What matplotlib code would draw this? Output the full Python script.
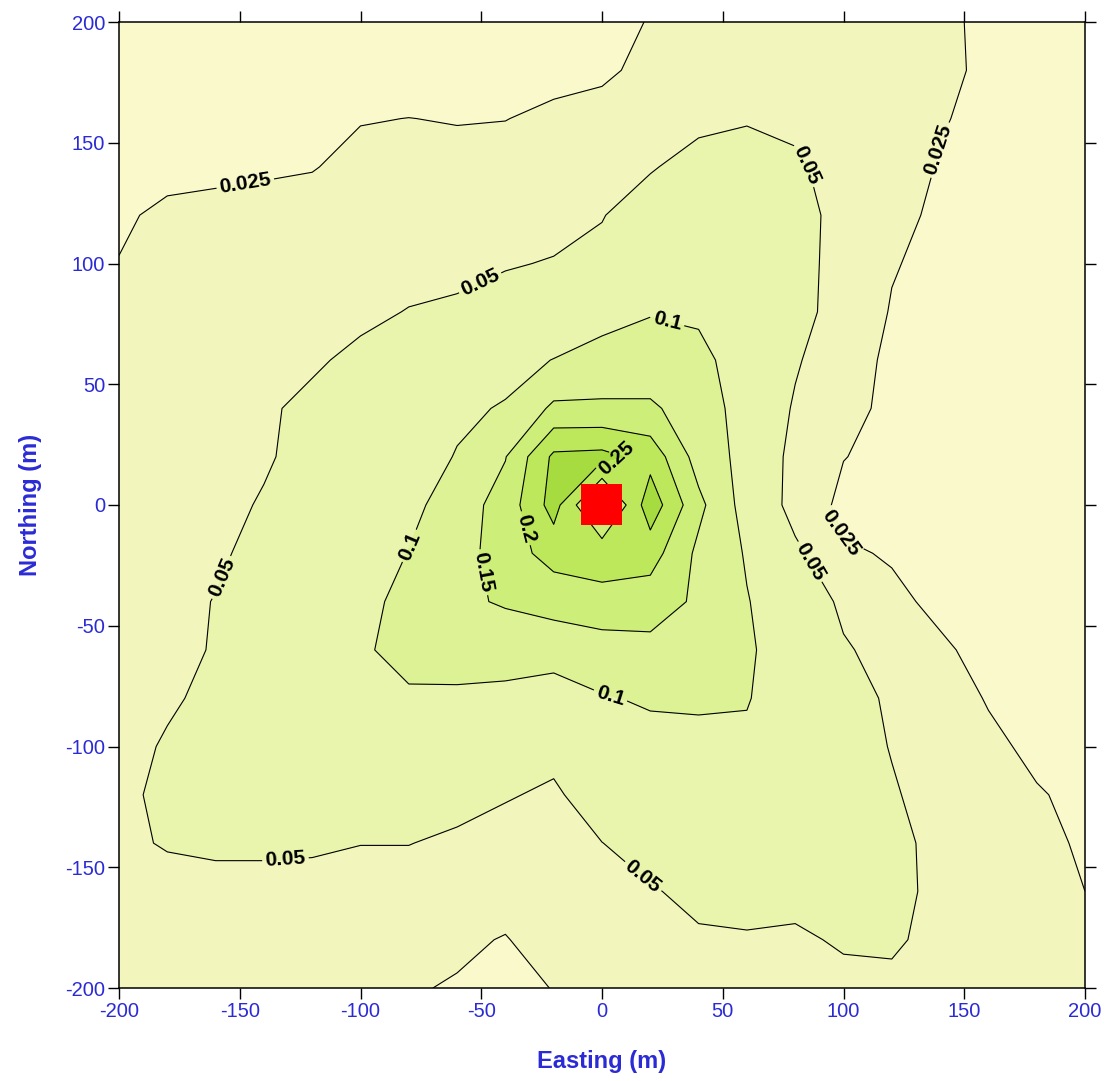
import numpy as np
import matplotlib
matplotlib.use("Agg")
import matplotlib.pyplot as plt
from matplotlib.patches import Rectangle

plt.rcParams['font.family'] = ['Liberation Sans', 'DejaVu Sans']
plt.rcParams['axes.unicode_minus'] = False

# grid nodes (m), 20 m spacing
easting = [-200, -180, -160, -140, -120, -100, -80, -60, -40, -20, 0,
           20, 40, 60, 80, 100, 120, 140, 160, 180, 200]
northing = [200, 180, 160, 140, 120, 100, 80, 60, 40, 20, 0,
            -20, -40, -60, -80, -100, -120, -140, -160, -180, -200]

# concentration, one row per northing (top to bottom)
conc = [
    [0.012, 0.013, 0.014, 0.015, 0.016, 0.017, 0.017, 0.018, 0.019, 0.020, 0.021, 0.0256, 0.029, 0.031, 0.032, 0.032, 0.030, 0.028, 0.022, 0.018, 0.015],
    [0.015, 0.016, 0.017, 0.018, 0.019, 0.020, 0.020, 0.021, 0.021, 0.022, 0.023, 0.028, 0.033, 0.036, 0.037, 0.036, 0.033, 0.028, 0.0225, 0.018, 0.015],
    [0.018, 0.019, 0.020, 0.021, 0.022, 0.0245, 0.0251, 0.0245, 0.0248, 0.027, 0.029, 0.037, 0.044, 0.048, 0.046, 0.040, 0.034, 0.026, 0.0215, 0.018, 0.015],
    [0.021, 0.022, 0.023, 0.0238, 0.0245, 0.0278, 0.029, 0.028, 0.0288, 0.032, 0.038, 0.048, 0.059, 0.061, 0.053, 0.042, 0.032, 0.024, 0.020, 0.017, 0.015],
    [0.0235, 0.027, 0.0275, 0.028, 0.029, 0.032, 0.034, 0.035, 0.037, 0.041, 0.049, 0.062, 0.070, 0.070, 0.058, 0.043, 0.028, 0.023, 0.019, 0.016, 0.014],
    [0.0253, 0.029, 0.031, 0.033, 0.036, 0.039, 0.042, 0.045, 0.048, 0.0516, 0.0557, 0.068, 0.078, 0.078, 0.058, 0.042, 0.026, 0.021, 0.018, 0.016, 0.014],
    [0.027, 0.031, 0.034, 0.037, 0.041, 0.045, 0.0509, 0.053, 0.061, 0.070, 0.082, 0.097, 0.096, 0.085, 0.062, 0.036, 0.024, 0.020, 0.017, 0.015, 0.013],
    [0.030, 0.034, 0.038, 0.042, 0.047, 0.055, 0.065, 0.075, 0.087, 0.101, 0.118, 0.124, 0.107, 0.087, 0.053, 0.032, 0.022, 0.019, 0.016, 0.014, 0.012],
    [0.032, 0.036, 0.041, 0.047, 0.055, 0.065, 0.078, 0.093, 0.103, 0.159, 0.158, 0.1565, 0.129, 0.076, 0.047, 0.029, 0.022, 0.018, 0.016, 0.014, 0.012],
    [0.033, 0.037, 0.042, 0.048, 0.056, 0.068, 0.082, 0.102, 0.148, 0.260, 0.265, 0.232, 0.129, 0.084, 0.0387, 0.0255, 0.020, 0.018, 0.016, 0.014, 0.013],
    [0.035, 0.039, 0.045, 0.0515, 0.060, 0.072, 0.086, 0.1256, 0.170, 0.270, 0.120, 0.280, 0.1625, 0.079, 0.039, 0.0203, 0.017, 0.016, 0.015, 0.014, 0.013],
    [0.038, 0.042, 0.047, 0.056, 0.063, 0.072, 0.1015, 0.128, 0.175, 0.220, 0.235, 0.222, 0.139, 0.096, 0.056, 0.027, 0.0237, 0.020, 0.018, 0.016, 0.015],
    [0.040, 0.044, 0.0507, 0.058, 0.068, 0.088, 0.112, 0.141, 0.1547, 0.168, 0.1765, 0.1735, 0.142, 0.102, 0.073, 0.044, 0.028, 0.022, 0.019, 0.017, 0.016],
    [0.041, 0.046, 0.051, 0.060, 0.075, 0.095, 0.112, 0.118, 0.1215, 0.121, 0.131, 0.136, 0.125, 0.108, 0.068, 0.053, 0.040, 0.027, 0.021, 0.018, 0.017],
    [0.043, 0.048, 0.0535, 0.062, 0.072, 0.083, 0.095, 0.093, 0.088, 0.077, 0.0966, 0.1054, 0.108, 0.103, 0.070, 0.058, 0.047, 0.032, 0.024, 0.020, 0.018],
    [0.045, 0.0515, 0.060, 0.066, 0.070, 0.074, 0.078, 0.074, 0.068, 0.058, 0.080, 0.085, 0.085, 0.091, 0.075, 0.060, 0.049, 0.038, 0.028, 0.022, 0.019],
    [0.046, 0.054, 0.058, 0.061, 0.062, 0.062, 0.062, 0.058, 0.052, 0.046, 0.064, 0.072, 0.074, 0.078, 0.070, 0.060, 0.052, 0.042, 0.033, 0.026, 0.022],
    [0.045, 0.052, 0.054, 0.054, 0.053, 0.0505, 0.0505, 0.046, 0.040, 0.038, 0.0497, 0.060, 0.064, 0.066, 0.064, 0.060, 0.055, 0.045, 0.036, 0.028, 0.0235],
    [0.040, 0.041, 0.043, 0.043, 0.043, 0.040, 0.040, 0.037, 0.033, 0.032, 0.040, 0.048, 0.056, 0.058, 0.058, 0.059, 0.057, 0.044, 0.036, 0.030, 0.025],
    [0.036, 0.037, 0.037, 0.036, 0.035, 0.034, 0.032, 0.0283, 0.024, 0.034, 0.038, 0.044, 0.047, 0.048, 0.046, 0.053, 0.054, 0.042, 0.036, 0.031, 0.027],
    [0.033, 0.033, 0.032, 0.031, 0.030, 0.028, 0.0265, 0.0235, 0.020, 0.0255, 0.032, 0.036, 0.039, 0.040, 0.041, 0.043, 0.044, 0.038, 0.033, 0.029, 0.026],
]

line_levels = [0.025, 0.05, 0.1, 0.15, 0.2, 0.25]
fill_levels = [0.0, 0.025, 0.05, 0.1, 0.15, 0.2, 0.25, 1.0]
band_colors = ['#f9f9cc', '#f2f6bc', '#e9f4ac', '#ddf195', '#cdee78', '#bde85c', '#a6dc40']

# where the contour labels sit (easting, northing)
label_spots = [
    (-148, 135), (136, 148), (103, -10),                                   # 0.025
    (-50, 91), (82, 139), (87, -23), (-160, -29), (-131, -148), (16, -155),  # 0.05
    (27, 76), (-77, -18), (4, -77),                                        # 0.1
    (-50, -28),                                                            # 0.15
    (-33, -10),                                                            # 0.2
    (6, 19),                                                               # 0.25
]

tick_vals = [-200, -150, -100, -50, 0, 50, 100, 150, 200]
blue = '#2b2bd6'

fig = plt.figure(figsize=(11.08, 10.81), dpi=100)
ax = fig.add_axes([119 / 1108, 93 / 1081, 966 / 1108, 966 / 1081])

ax.contourf(easting, northing, conc, levels=fill_levels, colors=band_colors)
cs = ax.contour(easting, northing, conc, levels=line_levels, colors='black', linewidths=0.8)

plt.rcParams['font.weight'] = 'bold'
ax.clabel(cs, manual=label_spots, inline=True, inline_spacing=3, fmt='%g', fontsize=15)
plt.rcParams['font.weight'] = 'normal'

# source location
ax.add_patch(Rectangle((-8.7, -8.3), 17, 17, facecolor='#ff0000', edgecolor='none', zorder=5))

ax.set_xlim(-200, 200)
ax.set_ylim(-200, 200)
ax.set_xticks(tick_vals)
ax.set_yticks(tick_vals)
ax.tick_params(direction='out', length=8, width=1, top=True, right=True,
               labelcolor=blue, labelsize=14.5, pad=2)
for sp in ax.spines.values():
    sp.set_linewidth(1.1)

ax.set_xlabel('Easting (m)', fontsize=17, fontweight='bold', color=blue, labelpad=21)
ax.set_ylabel('Northing (m)', fontsize=17, fontweight='bold', color=blue, labelpad=17)

fig.savefig('out.png', dpi=100, facecolor='white')
